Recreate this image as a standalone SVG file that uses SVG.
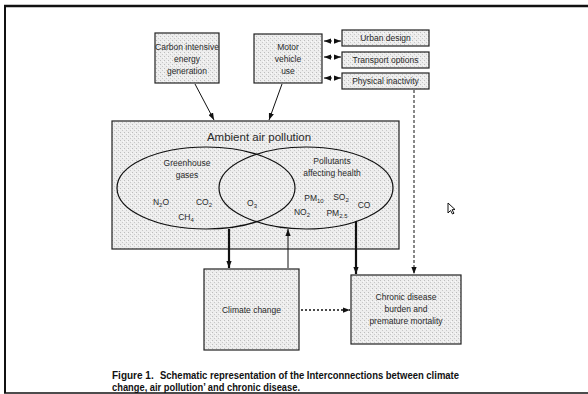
<svg xmlns="http://www.w3.org/2000/svg" width="588" height="394" viewBox="0 0 588 394">
<defs>
<pattern id="stip" width="4" height="4" patternUnits="userSpaceOnUse">
<rect width="4" height="4" fill="#ededed"/>
<rect x="0" y="0" width="1" height="1" fill="#bdbdbd"/>
<rect x="2" y="2" width="1" height="1" fill="#c8c8c8"/>
<rect x="3" y="1" width="1" height="1" fill="#fafafa"/>
</pattern>
<marker id="ah" viewBox="0 0 8 6" refX="8" refY="3" markerWidth="7" markerHeight="5.5" markerUnits="userSpaceOnUse" orient="auto-start-reverse">
<path d="M0,0 L8,3 L0,6 z" fill="#111"/>
</marker>
</defs>
<style>
.box{fill:url(#stip);stroke:#222;stroke-width:1.2}
.ell{fill:none;stroke:#111;stroke-width:1.2}
.t{font-family:"Liberation Sans",Arial,sans-serif;font-size:8.5px;fill:#2a2a2a;text-anchor:middle}
.big{font-size:11.5px}
.cap{font-family:"Liberation Sans",Arial,sans-serif;font-weight:bold;font-size:10px;fill:#111}
.c{fill:none;stroke:#111;stroke-width:1}
.thick{stroke-width:2.2}
.dash{stroke-dasharray:3,2}
.dot{stroke-dasharray:2,2;stroke-width:1.3}
.frame{stroke:#111;fill:none}
</style>
<line class="frame" x1="4" y1="6" x2="588" y2="6" stroke-width="2.5"/>
<line class="frame" x1="5" y1="5" x2="5" y2="393" stroke-width="2"/>
<line class="frame" x1="4" y1="393" x2="588" y2="393" stroke-width="1.5"/>

<g id="carbon">
<rect class="box" x="155" y="33" width="64" height="50"/>
<text class="t" x="187" y="50">Carbon intensive</text>
<text class="t" x="187" y="62">energy</text>
<text class="t" x="187" y="74">generation</text>
</g>
<g id="motor">
<rect class="box" x="254" y="34" width="68" height="49"/>
<text class="t" x="288" y="50">Motor</text>
<text class="t" x="288" y="62">vehicle</text>
<text class="t" x="288" y="74">use</text>
</g>
<g id="urban">
<rect class="box" x="342" y="30" width="87" height="16"/>
<text class="t" x="385.5" y="41">Urban design</text>
</g>
<g id="transport">
<rect class="box" x="342" y="52" width="87" height="16"/>
<text class="t" x="385.5" y="63">Transport options</text>
</g>
<g id="physical">
<rect class="box" x="342" y="73" width="87" height="16"/>
<text class="t" x="385.5" y="84">Physical inactivity</text>
</g>
<g id="ambient">
<rect class="box" x="112" y="121" width="287" height="128"/>
<text class="t big" x="259" y="141">Ambient air pollution</text>
<ellipse class="ell" cx="206" cy="188" rx="89" ry="41"/>
<ellipse class="ell" cx="306" cy="188" rx="87" ry="41"/>
<text class="t" x="187" y="166">Greenhouse</text>
<text class="t" x="187" y="178">gases</text>
<text class="t" x="161" y="205">N<tspan font-size="6" dy="2">2</tspan><tspan dy="-2">O</tspan></text>
<text class="t" x="204" y="205">CO<tspan font-size="6" dy="2">2</tspan></text>
<text class="t" x="186" y="220">CH<tspan font-size="6" dy="2">4</tspan></text>
<text class="t" x="252" y="206">O<tspan font-size="6" dy="2">3</tspan></text>
<text class="t" x="332" y="164">Pollutants</text>
<text class="t" x="332" y="176">affecting health</text>
<text class="t" x="314" y="201">PM<tspan font-size="6" dy="2">10</tspan></text>
<text class="t" x="341" y="200">SO<tspan font-size="6" dy="2">2</tspan></text>
<text class="t" x="364" y="208">CO</text>
<text class="t" x="302" y="215">NO<tspan font-size="6" dy="2">2</tspan></text>
<text class="t" x="337" y="216">PM<tspan font-size="6" dy="2">2.5</tspan></text>
</g>
<g id="climate">
<rect class="box" x="204" y="269" width="95" height="81"/>
<text class="t" x="251.5" y="313">Climate change</text>
</g>
<g id="chronic">
<rect class="box" x="351" y="275" width="110" height="69"/>
<text class="t" x="406" y="300">Chronic disease</text>
<text class="t" x="406" y="312">burden and</text>
<text class="t" x="406" y="324">premature mortality</text>
</g>

<g id="connectors">
<line class="c dash" x1="324" y1="41" x2="341" y2="41" marker-start="url(#ah)" marker-end="url(#ah)"/>
<line class="c dash" x1="324" y1="57" x2="341" y2="57" marker-start="url(#ah)" marker-end="url(#ah)"/>
<line class="c dash" x1="324" y1="78" x2="341" y2="78" marker-start="url(#ah)" marker-end="url(#ah)"/>
<line class="c" x1="195" y1="84" x2="214" y2="120" marker-end="url(#ah)"/>
<line class="c" x1="282" y1="84" x2="269" y2="120" marker-end="url(#ah)"/>
<line class="c thick" x1="229" y1="229" x2="229" y2="268" marker-end="url(#ah)"/>
<line class="c" x1="288" y1="268" x2="288" y2="229" marker-end="url(#ah)"/>
<line class="c thick" x1="356" y1="221" x2="356" y2="274" marker-end="url(#ah)"/>
<line class="c dash" x1="414" y1="90" x2="414" y2="274" marker-end="url(#ah)"/>
<line class="c dot" x1="301" y1="310" x2="350" y2="310" marker-end="url(#ah)"/>
</g>

<path d="M448,203 L448,213 L450.5,210.5 L452.5,214 L454,213.2 L452,209.8 L455,209.5 Z" fill="#fff" stroke="#111" stroke-width="1"/>

<text class="cap" y="379"><tspan x="112">Figure 1.</tspan><tspan x="160" textLength="299" lengthAdjust="spacingAndGlyphs">Schematic representation of the Interconnections between climate</tspan></text>
<text class="cap" x="112" y="391" textLength="188" lengthAdjust="spacingAndGlyphs">change, air pollution’ and chronic disease.</text>
</svg>
